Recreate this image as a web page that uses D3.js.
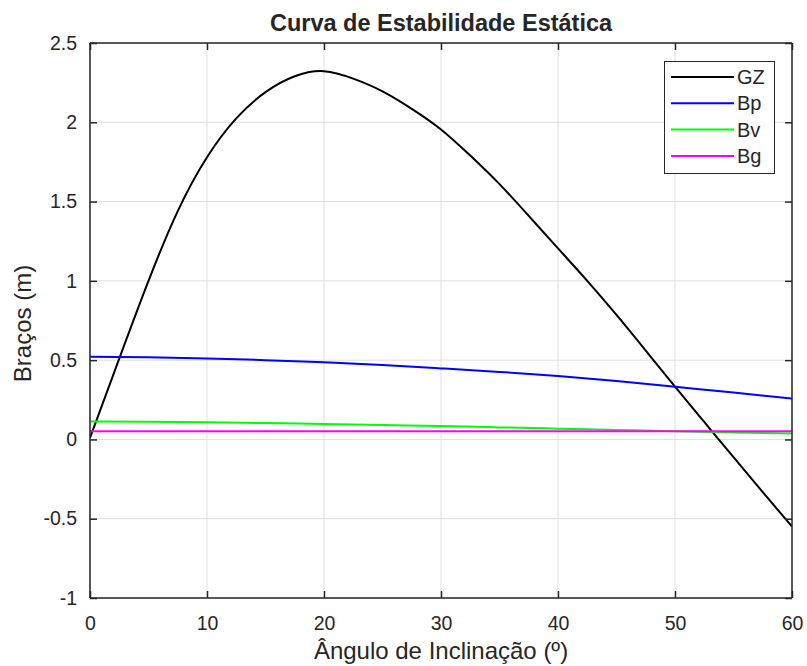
<!DOCTYPE html>
<html>
<head>
<meta charset="utf-8">
<script src="https://cdn.jsdelivr.net/npm/d3@7"></script>
<style>
  html, body { margin: 0; padding: 0; background: #fff; }
  svg text { font-family: "Liberation Sans", Arial, Helvetica, sans-serif; fill: #262626; }
</style>
</head>
<body>
<svg id="chart" width="807" height="666"></svg>
<script>
// Data
const angles = [0, 2.5, 5, 7.5, 10, 12.5, 15, 17.5, 20, 22.5, 25, 27.5, 30, 32.5, 35, 37.5, 40, 42.5, 45, 47.5, 50, 52.5, 55, 57.5, 60];
const gzValues = [0.01, 0.51, 1.00, 1.44, 1.78, 2.025, 2.19, 2.29, 2.322, 2.275, 2.195, 2.085, 1.955, 1.79, 1.61, 1.41, 1.205, 1.0, 0.785, 0.56, 0.333, 0.11, -0.112, -0.332, -0.55];
const bAngles = [0, 5, 10, 15, 20, 25, 30, 35, 40, 45, 50, 55, 60];
const bpValues = [0.521, 0.518, 0.511, 0.500, 0.487, 0.469, 0.448, 0.426, 0.400, 0.368, 0.332, 0.296, 0.258];
const bvValues = [0.113, 0.111, 0.108, 0.103, 0.098, 0.091, 0.084, 0.076, 0.068, 0.060, 0.052, 0.044, 0.037];
const bgValues = [0.052, 0.052, 0.052, 0.052, 0.052, 0.052, 0.052, 0.052, 0.052, 0.052, 0.052, 0.052, 0.052];
const seriesNames = ["GZ", "Bp", "Bv", "Bg"];
const seriesColors = ["#000000", "#0000ff", "#00ff00", "#ff00ff"];
const xTicks = [0, 10, 20, 30, 40, 50, 60];
const yTicks = [-1, -0.5, 0, 0.5, 1, 1.5, 2, 2.5];
const titleText = "Curva de Estabilidade Estática";
const xLabelText = "Ângulo de Inclinação (º)";
const yLabelText = "Braços (m)";

const svg = d3.select("#chart");
const L = 90, R = 792, T = 43, B = 598;
const x = d3.scaleLinear().domain([0, 60]).range([L, R]);
const y = d3.scaleLinear().domain([-1, 2.5]).range([B, T]);

// grid
const grid = svg.append("g");
grid.selectAll("line.gx").data(xTicks).join("line")
  .attr("x1", d => x(d)).attr("x2", d => x(d)).attr("y1", T).attr("y2", B)
  .attr("stroke", "#dfdfdf").attr("stroke-width", 1);
grid.selectAll("line.gy").data(yTicks).join("line")
  .attr("y1", d => y(d)).attr("y2", d => y(d)).attr("x1", L).attr("x2", R)
  .attr("stroke", "#dfdfdf").attr("stroke-width", 1);

// clip
svg.append("defs").append("clipPath").attr("id", "clip")
  .append("rect").attr("x", L).attr("y", T).attr("width", R - L).attr("height", B - T);

const series = [
  { name: seriesNames[0], xs: angles, ys: gzValues, color: seriesColors[0] },
  { name: seriesNames[1], xs: bAngles, ys: bpValues, color: seriesColors[1] },
  { name: seriesNames[2], xs: bAngles, ys: bvValues, color: seriesColors[2] },
  { name: seriesNames[3], xs: bAngles, ys: bgValues, color: seriesColors[3] }
];
const line = d3.line().x(d => x(d[0])).y(d => y(d[1])).curve(d3.curveNatural);
const lines = svg.append("g").attr("clip-path", "url(#clip)");
series.forEach(s => {
  lines.append("path")
    .datum(s.xs.map((a, i) => [a, s.ys[i]]))
    .attr("d", line).attr("fill", "none")
    .attr("stroke", s.color).attr("stroke-width", 2);
});

// axes (box with inward ticks on all sides)
const axisColor = "#262626";
const tickLen = 7;
const fmt = d => String(d);
const axB = d3.axisBottom(x).tickValues(xTicks).tickSize(-tickLen).tickPadding(18).tickFormat(fmt);
const axT = d3.axisTop(x).tickValues(xTicks).tickSize(-tickLen).tickFormat("");
const axLft = d3.axisLeft(y).tickValues(yTicks).tickSize(-tickLen).tickPadding(13).tickFormat(fmt);
const axRt = d3.axisRight(y).tickValues(yTicks).tickSize(-tickLen).tickFormat("");

function style(g) {
  g.select(".domain").attr("stroke", axisColor).attr("stroke-width", 1.5);
  g.selectAll(".tick line").attr("stroke", axisColor).attr("stroke-width", 1.5);
  g.selectAll(".tick text").attr("fill", axisColor).style("font-size", "19.5px");
}
svg.append("g").attr("transform", `translate(0,${B})`).call(axB).call(style)
  .call(g => g.select(".domain").attr("d", `M${L},0H${R}`));
svg.append("g").attr("transform", `translate(0,${T})`).call(axT).call(style)
  .call(g => g.select(".domain").attr("d", `M${L},0H${R}`));
svg.append("g").attr("transform", `translate(${L},0)`).call(axLft).call(style)
  .call(g => g.select(".domain").attr("d", `M0,${T}V${B}`));
svg.append("g").attr("transform", `translate(${R},0)`).call(axRt).call(style)
  .call(g => g.select(".domain").attr("d", `M0,${T}V${B}`));

// title and labels
svg.append("text").attr("x", (L + R) / 2).attr("y", 31).attr("text-anchor", "middle")
  .style("font-size", "23.5px").style("font-weight", "bold").attr("fill", "#000").text(titleText);
svg.append("text").attr("x", (L + R) / 2).attr("y", 659).attr("text-anchor", "middle")
  .style("font-size", "24px").text(xLabelText);
svg.append("text").attr("transform", `translate(31,${(T + B) / 2 + 3}) rotate(-90)`).attr("text-anchor", "middle")
  .style("font-size", "24px").text(yLabelText);

// legend
const lg = svg.append("g");
lg.append("rect").attr("x", 664.5).attr("y", 61.5).attr("width", 110).attr("height", 112)
  .attr("fill", "#fff").attr("stroke", "#262626").attr("stroke-width", 1);
series.forEach((s, i) => {
  const yy = 77 + i * 26.3;
  lg.append("line").attr("x1", 671).attr("x2", 734).attr("y1", yy).attr("y2", yy)
    .attr("stroke", s.color).attr("stroke-width", 2);
  lg.append("text").attr("x", 737).attr("y", yy + 7).style("font-size", "20px").attr("fill", "#000").text(s.name);
});
</script>
</body>
</html>
